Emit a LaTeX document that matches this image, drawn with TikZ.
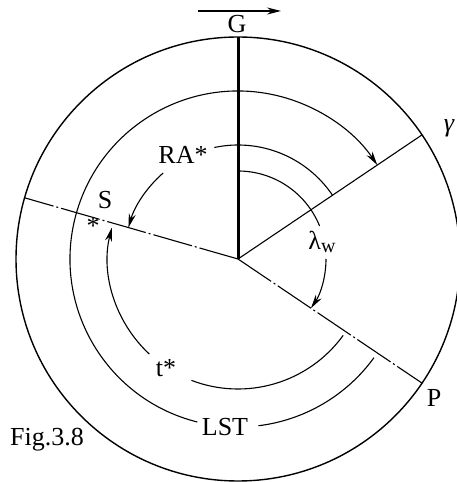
\documentclass[tikz,border=0pt]{standalone}
\usepackage{fontspec}
\setmainfont{Liberation Serif}
\usetikzlibrary{arrows.meta}
\begin{document}
\begin{tikzpicture}[x=1pt,y=1pt,
  circ/.style={line width=1.4pt},
  thinl/.style={line width=1.1pt},
  chain/.style={line width=1.1pt, dash pattern=on 40pt off 3pt on 2pt off 3pt},
  arr/.style={-{Stealth[length=14pt,width=7pt]}},
  lab/.style={font=\fontsize{26}{26}\selectfont, inner sep=0pt}]
\useasboundingbox (0,0) rectangle (456,482);
\coordinate (O) at (238,223);
\draw[circ] (O) circle[radius=222];
\coordinate (Gtop) at ([shift={(90:222)}]O);
\coordinate (Gam) at ([shift={(34:222)}]O);
\coordinate (Sout) at ([shift={(164:222)}]O);
\coordinate (Pout) at ([shift={(-34:222)}]O);
\draw[line width=3pt] (O) -- (Gtop);
\draw[thinl] (O) -- (Gam);
\draw[chain] (O) -- (Sout);
\draw[chain] (O) -- (Pout);
% top arrow and labels
\node[lab] (G) at (237,458) {G};
\coordinate (a1) at (198,471);
\coordinate (a2) at (281,471);
\draw[thinl, arr] (a1) -- (a2);
\node[lab] (S) at (105,282) {S};
\node[lab] (star) at (93,256) {*};
\node[lab] (RA) at (183,327) {RA*};
\node[lab] (lw) at (322,240) {λ\raisebox{-3pt}{\fontsize{20}{20}\selectfont w}};
\node[lab] (ts) at (166,114) {t*};
\node[lab] (LST) at (225,55) {LST};
\node[lab] (P) at (434,84) {P};
\node[lab] (fig) at (47,42) {Fig.3.8};
\node[lab, font=\fontsize{26}{26}\selectfont\itshape] (gam) at (449,354) {γ};
% LST arc r=168
\draw[thinl] ([shift={(324:168)}]O) arc[start angle=324, end angle=277, radius=168];
\draw[thinl, arr] ([shift={(256:168)}]O) arc[start angle=256, end angle=34, radius=168];
% RA* arc r=114
\draw[thinl] ([shift={(34:114)}]O) arc[start angle=34, end angle=102, radius=114];
\draw[thinl, arr] ([shift={(131:114)}]O) arc[start angle=131, end angle=164, radius=114];
% lambda_w arc r=88
\draw[thinl] ([shift={(90:88)}]O) arc[start angle=90, end angle=22, radius=88];
\draw[thinl, arr] ([shift={(0:88)}]O) arc[start angle=0, end angle=-34, radius=88];
% t* arc r=130
\draw[thinl] ([shift={(324:130)}]O) arc[start angle=324, end angle=249, radius=130];
\draw[thinl, arr] ([shift={(227:130)}]O) arc[start angle=227, end angle=166, radius=130];
\end{tikzpicture}
\end{document}
